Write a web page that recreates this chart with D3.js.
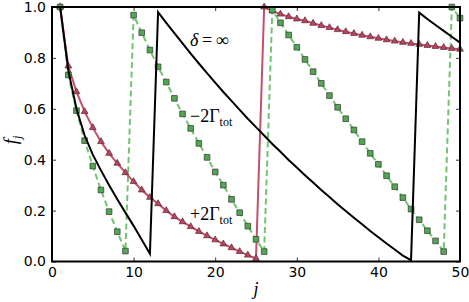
<!DOCTYPE html>
<html>
<head>
<meta charset="utf-8">
<script src="https://cdn.jsdelivr.net/npm/d3@7"></script>
<style>
body { margin: 0; background: #fff; }
</style>
</head>
<body>
<div id="chart"></div>
<script>
// site index j
var jVals = [1,2,3,4,5,6,7,8,9,10,11,12,13,14,15,16,17,18,19,20,21,22,23,24,25,
             26,27,28,29,30,31,32,33,34,35,36,37,38,39,40,41,42,43,44,45,46,47,48,49,50];

// delta = infinity (black line)
var fInf = [1.0,0.75,0.6,0.495,0.42,0.358,0.30,0.245,0.192,0.14,0.085,0.03,
            0.98,0.938,0.897,0.857,0.817,0.778,0.740,0.703,0.666,0.631,0.596,0.561,0.528,
            0.495,0.462,0.431,0.399,0.369,0.339,0.310,0.281,0.253,0.225,0.198,0.172,0.146,
            0.120,0.095,0.071,0.047,0.023,0.005,
            0.978,0.953,0.929,0.906,0.883,0.860];

// -2 Gamma_tot (green squares, dashed)
var fMinus = [1.0,0.733,0.593,0.475,0.375,0.281,0.196,0.117,0.041,
              0.968,0.899,0.831,0.765,0.705,0.641,0.58,0.523,0.464,0.409,0.352,0.3,0.244,0.192,0.139,0.087,0.039,
              0.988,0.938,0.89,0.842,0.794,0.746,0.7,0.652,0.606,0.561,0.517,0.471,0.425,0.382,0.337,0.294,0.251,
              0.206,0.164,0.121,0.081,0.039,
              1.0,0.956];

// +2 Gamma_tot (red triangles)
var fPlus = [1.0,0.768,0.667,0.589,0.526,0.471,0.425,0.386,0.349,0.314,0.281,0.252,0.227,0.2,0.176,
             0.156,0.137,0.118,0.101,0.085,0.069,0.054,0.039,0.025,0.012,
             1.0,0.985,0.972,0.962,0.953,0.946,0.936,0.927,0.919,0.911,0.903,0.896,0.889,0.883,0.877,
             0.871,0.866,0.861,0.857,0.853,0.849,0.845,0.841,0.837,0.834];

var xTicks = [0,10,20,30,40,50];
var yTicks = [0.0,0.2,0.4,0.6,0.8,1.0];

var margin = {top: 7, right: 9, bottom: 40.5, left: 52},
    width = 469 - margin.left - margin.right,
    height = 302 - margin.top - margin.bottom;

var svg = d3.select("#chart")
  .append("svg")
  .attr("width", 469)
  .attr("height", 302);

var chartgroup = svg.append("g")
  .attr("transform", "translate(" + margin.left + "," + margin.top + ")");

var x = d3.scaleLinear().domain([0, 50]).range([0, width]);
var y = d3.scaleLinear().domain([0, 1]).range([height, 0]);

function pts(vals) {
  return vals.map(function(v, i) { return {j: jVals[i], f: v}; });
}

var tickFont = "'DejaVu Sans', sans-serif";

// axes, ticks pointing inward
chartgroup.append("g")
  .attr("transform", "translate(0," + height + ")")
  .call(d3.axisBottom(x).tickValues(xTicks).tickSizeInner(-4).tickSizeOuter(0).tickPadding(6));
chartgroup.append("g")
  .call(d3.axisLeft(y).tickValues(yTicks).tickFormat(d3.format(".1f")).tickSizeInner(-4).tickSizeOuter(0).tickPadding(6));
chartgroup.append("g")
  .call(d3.axisTop(x).tickValues(xTicks).tickFormat("").tickSizeInner(-4).tickSizeOuter(0));
chartgroup.append("g")
  .attr("transform", "translate(" + width + ",0)")
  .call(d3.axisRight(y).tickValues(yTicks).tickFormat("").tickSizeInner(-4).tickSizeOuter(0));

chartgroup.selectAll(".domain").remove();
chartgroup.selectAll(".tick line").attr("stroke", "#000").attr("stroke-width", 0.8);
chartgroup.selectAll(".tick text")
  .style("font-family", tickFont)
  .style("font-size", "14px")
  .attr("fill", "#000");

var line = d3.line().x(function(d) { return x(d.j); }).y(function(d) { return y(d.f); });

var plot = chartgroup.append("g");

// green dashed with squares
plot.append("path")
  .datum(pts(fMinus))
  .attr("d", line)
  .attr("fill", "none")
  .attr("stroke", "#72c472")
  .attr("stroke-width", 2)
  .attr("stroke-dasharray", "6,3.5");

// red line with triangles
plot.append("path")
  .datum(pts(fPlus))
  .attr("d", line)
  .attr("fill", "none")
  .attr("stroke", "#c44e6c")
  .attr("stroke-width", 2);

plot.append("g")
  .selectAll("path")
  .data(pts(fPlus))
  .enter()
  .append("path")
  .attr("d", d3.symbol().type(d3.symbolTriangle).size(20))
  .attr("transform", function(d) { return "translate(" + x(d.j) + "," + y(d.f) + ")"; })
  .attr("fill", "#b8455f")
  .attr("stroke", "#5a2a33")
  .attr("stroke-width", 0.7);

plot.append("g")
  .selectAll("path")
  .data(pts(fMinus))
  .enter()
  .append("path")
  .attr("d", d3.symbol().type(d3.symbolSquare).size(32))
  .attr("transform", function(d) { return "translate(" + x(d.j) + "," + y(d.f) + ")"; })
  .attr("fill", "#52a852")
  .attr("stroke", "#333")
  .attr("stroke-width", 0.7);

// black line
plot.append("path")
  .datum(pts(fInf))
  .attr("d", line)
  .attr("fill", "none")
  .attr("stroke", "#000")
  .attr("stroke-width", 2);

// frame
chartgroup.append("rect")
  .attr("width", width)
  .attr("height", height)
  .attr("fill", "none")
  .attr("stroke", "#000")
  .attr("stroke-width", 2);

// curve labels
var serif = "'Liberation Serif', 'DejaVu Serif', serif";

var t1 = svg.append("text")
  .attr("x", 190).attr("y", 46)
  .style("font-family", serif)
  .style("font-size", "18px");
t1.append("tspan").style("font-style", "italic").text("δ");
t1.append("tspan").text("\u2009=\u2009∞");

function gammaLabel(sign, xpos, ypos) {
  var t = svg.append("text")
    .attr("x", xpos).attr("y", ypos)
    .style("font-family", serif)
    .style("font-size", "18px");
  t.append("tspan").text(sign + "2Γ");
  t.append("tspan").attr("dy", 4).style("font-size", "12px").text("tot");
}
gammaLabel("\u2212", 190, 122);
gammaLabel("+", 190, 220);

// axis titles
svg.append("text")
  .attr("x", 256).attr("y", 295)
  .attr("text-anchor", "middle")
  .style("font-family", serif)
  .style("font-style", "italic")
  .style("font-size", "18px")
  .text("j");

var fy = svg.append("text")
  .attr("transform", "translate(17,140)rotate(-90)")
  .attr("text-anchor", "middle")
  .style("font-family", serif)
  .style("font-style", "italic")
  .style("font-size", "19px");
fy.append("tspan").text("f");
fy.append("tspan").attr("dy", 4).style("font-size", "12px").text("j");
</script>
</body>
</html>
